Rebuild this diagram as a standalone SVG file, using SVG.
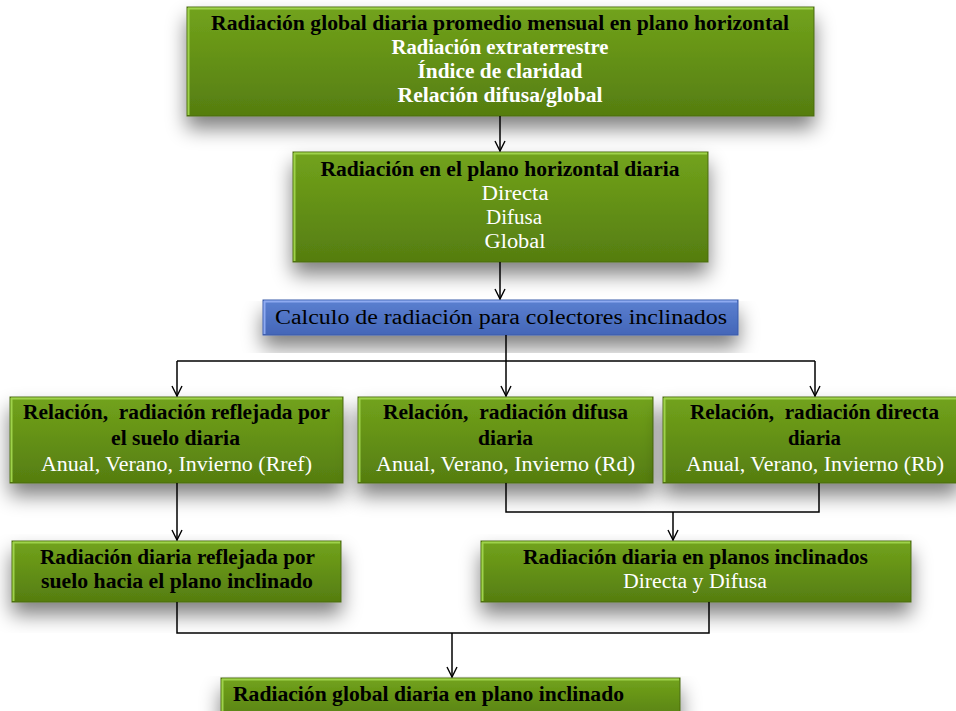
<svg xmlns="http://www.w3.org/2000/svg" width="956" height="711" viewBox="0 0 956 711">
<defs>
<linearGradient id="gg" x1="0" y1="0" x2="0" y2="1">
<stop offset="0" stop-color="#72a31c"/>
<stop offset="1" stop-color="#557d10"/>
</linearGradient>
<linearGradient id="bg" x1="0" y1="0" x2="0" y2="1">
<stop offset="0" stop-color="#5b80d0"/>
<stop offset="1" stop-color="#4466b8"/>
</linearGradient>
<filter id="sh" x="-20%" y="-30%" width="140%" height="180%">
<feGaussianBlur in="SourceAlpha" stdDeviation="10"/>
<feOffset dx="0" dy="12" result="b"/>
<feComponentTransfer><feFuncA type="linear" slope="0.5"/></feComponentTransfer>
<feMerge><feMergeNode/><feMergeNode in="SourceGraphic"/></feMerge>
</filter>
<marker id="ar" viewBox="0 0 12 12" refX="11" refY="6" markerWidth="12" markerHeight="12" markerUnits="userSpaceOnUse" orient="auto">
<path d="M1,1 L11,6 L1,11" fill="none" stroke="#000" stroke-width="1.4"/>
</marker>
</defs>
<style>
.g{fill:url(#gg);stroke:#4a6a0e;stroke-width:1}
.b{fill:url(#bg);stroke:#3a5aa8;stroke-width:1}
.hl{fill:none;stroke:#9ed24a;stroke-width:2}
.hlb{fill:none;stroke:#8eaaf0;stroke-width:2}
.t{font-family:"Liberation Serif","DejaVu Serif",serif;font-size:20.5px;text-anchor:middle;white-space:pre}
.k{fill:#000;font-weight:bold}
.w{fill:#fff;font-weight:bold}
.wn{fill:#fff}
.kn{fill:#000}
.c{fill:none;stroke:#000;stroke-width:1.5}
</style>
<rect width="956" height="711" fill="#fff"/>

<g id="n1">
<rect class="g" x="187" y="7" width="627" height="109" filter="url(#sh)"/>
<path class="hl" d="M188,8.5 H813 M188.5,8 V115"/>
<text class="t k" x="500" y="30" textLength="578" lengthAdjust="spacingAndGlyphs">Radiación global diaria promedio mensual en plano horizontal</text>
<text class="t w" x="500" y="54" textLength="217" lengthAdjust="spacingAndGlyphs">Radiación extraterrestre</text>
<text class="t w" x="500" y="78" textLength="165" lengthAdjust="spacingAndGlyphs">Índice de claridad</text>
<text class="t w" x="500" y="102" textLength="205" lengthAdjust="spacingAndGlyphs">Relación difusa/global</text>
</g>

<g id="n2">
<rect class="g" x="293" y="152" width="415" height="110" filter="url(#sh)"/>
<path class="hl" d="M294,153.5 H707 M294.5,153 V261"/>
<text class="t k" x="500" y="176" textLength="359" lengthAdjust="spacingAndGlyphs">Radiación en el plano horizontal diaria</text>
<text class="t wn" x="515" y="200" textLength="67" lengthAdjust="spacingAndGlyphs">Directa</text>
<text class="t wn" x="514" y="224" textLength="56" lengthAdjust="spacingAndGlyphs">Difusa</text>
<text class="t wn" x="515" y="248" textLength="61" lengthAdjust="spacingAndGlyphs">Global</text>
</g>

<g id="n3">
<rect class="b" x="263" y="300" width="475" height="35" filter="url(#sh)"/>
<path class="hlb" d="M264,301.5 H737 M264.5,301 V334"/>
<text class="t kn" x="275" y="324" style="text-anchor:start" textLength="452" lengthAdjust="spacingAndGlyphs">Calculo de radiación para colectores inclinados</text>
</g>

<g id="n4">
<rect class="g" x="10" y="397" width="333" height="86" filter="url(#sh)"/>
<path class="hl" d="M11,398.5 H342 M11.5,398 V482"/>
<text class="t k" x="176.5" y="419" textLength="307" lengthAdjust="spacingAndGlyphs">Relación,  radiación reflejada por</text>
<text class="t k" x="175.5" y="445" textLength="129" lengthAdjust="spacingAndGlyphs">el suelo diaria</text>
<text class="t wn" x="176.5" y="471" textLength="271" lengthAdjust="spacingAndGlyphs">Anual, Verano, Invierno (Rref)</text>
</g>

<g id="n5">
<rect class="g" x="358" y="397" width="295" height="86" filter="url(#sh)"/>
<path class="hl" d="M359,398.5 H652 M359.5,398 V482"/>
<text class="t k" x="505.5" y="419" textLength="245" lengthAdjust="spacingAndGlyphs">Relación,  radiación difusa</text>
<text class="t k" x="505.5" y="445" textLength="55" lengthAdjust="spacingAndGlyphs">diaria</text>
<text class="t wn" x="505.5" y="471" textLength="259" lengthAdjust="spacingAndGlyphs">Anual, Verano, Invierno (Rd)</text>
</g>

<g id="n6">
<rect class="g" x="663" y="397" width="296" height="86" filter="url(#sh)"/>
<path class="hl" d="M664,398.5 H956 M664.5,398 V482"/>
<text class="t k" x="814.5" y="419" textLength="249" lengthAdjust="spacingAndGlyphs">Relación,  radiación directa</text>
<text class="t k" x="814.5" y="445" textLength="53" lengthAdjust="spacingAndGlyphs">diaria</text>
<text class="t wn" x="815" y="471" textLength="258" lengthAdjust="spacingAndGlyphs">Anual, Verano, Invierno (Rb)</text>
</g>

<g id="n7">
<rect class="g" x="12" y="541" width="329" height="61" filter="url(#sh)"/>
<path class="hl" d="M13,542.5 H340 M13.5,542 V601"/>
<text class="t k" x="177.5" y="564" textLength="275" lengthAdjust="spacingAndGlyphs">Radiación diaria reflejada por</text>
<text class="t k" x="177" y="588" textLength="272" lengthAdjust="spacingAndGlyphs">suelo hacia el plano inclinado</text>
</g>

<g id="n8">
<rect class="g" x="481" y="541" width="430" height="61" filter="url(#sh)"/>
<path class="hl" d="M482,542.5 H910 M482.5,542 V601"/>
<text class="t k" x="695.5" y="564" textLength="345" lengthAdjust="spacingAndGlyphs">Radiación diaria en planos inclinados</text>
<text class="t wn" x="695" y="588" textLength="144" lengthAdjust="spacingAndGlyphs">Directa y Difusa</text>
</g>

<g id="n9">
<rect class="g" x="221" y="678" width="459" height="45" filter="url(#sh)"/>
<path class="hl" d="M222,679.5 H679 M222.5,679 V711"/>
<text class="t k" x="233" y="701" style="text-anchor:start" textLength="391" lengthAdjust="spacingAndGlyphs">Radiación global diaria en plano inclinado</text>
</g>

<g id="connectors">
<path class="c" d="M500,116 V151" marker-end="url(#ar)"/>
<path class="c" d="M500,262 V299" marker-end="url(#ar)"/>
<path class="c" d="M506,335 V396" marker-end="url(#ar)"/>
<path class="c" d="M177,361 H815"/>
<path class="c" d="M177,361 V396" marker-end="url(#ar)"/>
<path class="c" d="M815,361 V396" marker-end="url(#ar)"/>
<path class="c" d="M177,483 V540" marker-end="url(#ar)"/>
<path class="c" d="M506,483 V512 H819 V483"/>
<path class="c" d="M673,512 V540" marker-end="url(#ar)"/>
<path class="c" d="M177,602 V633 H709 V602"/>
<path class="c" d="M452,633 V677" marker-end="url(#ar)"/>
</g>
</svg>
